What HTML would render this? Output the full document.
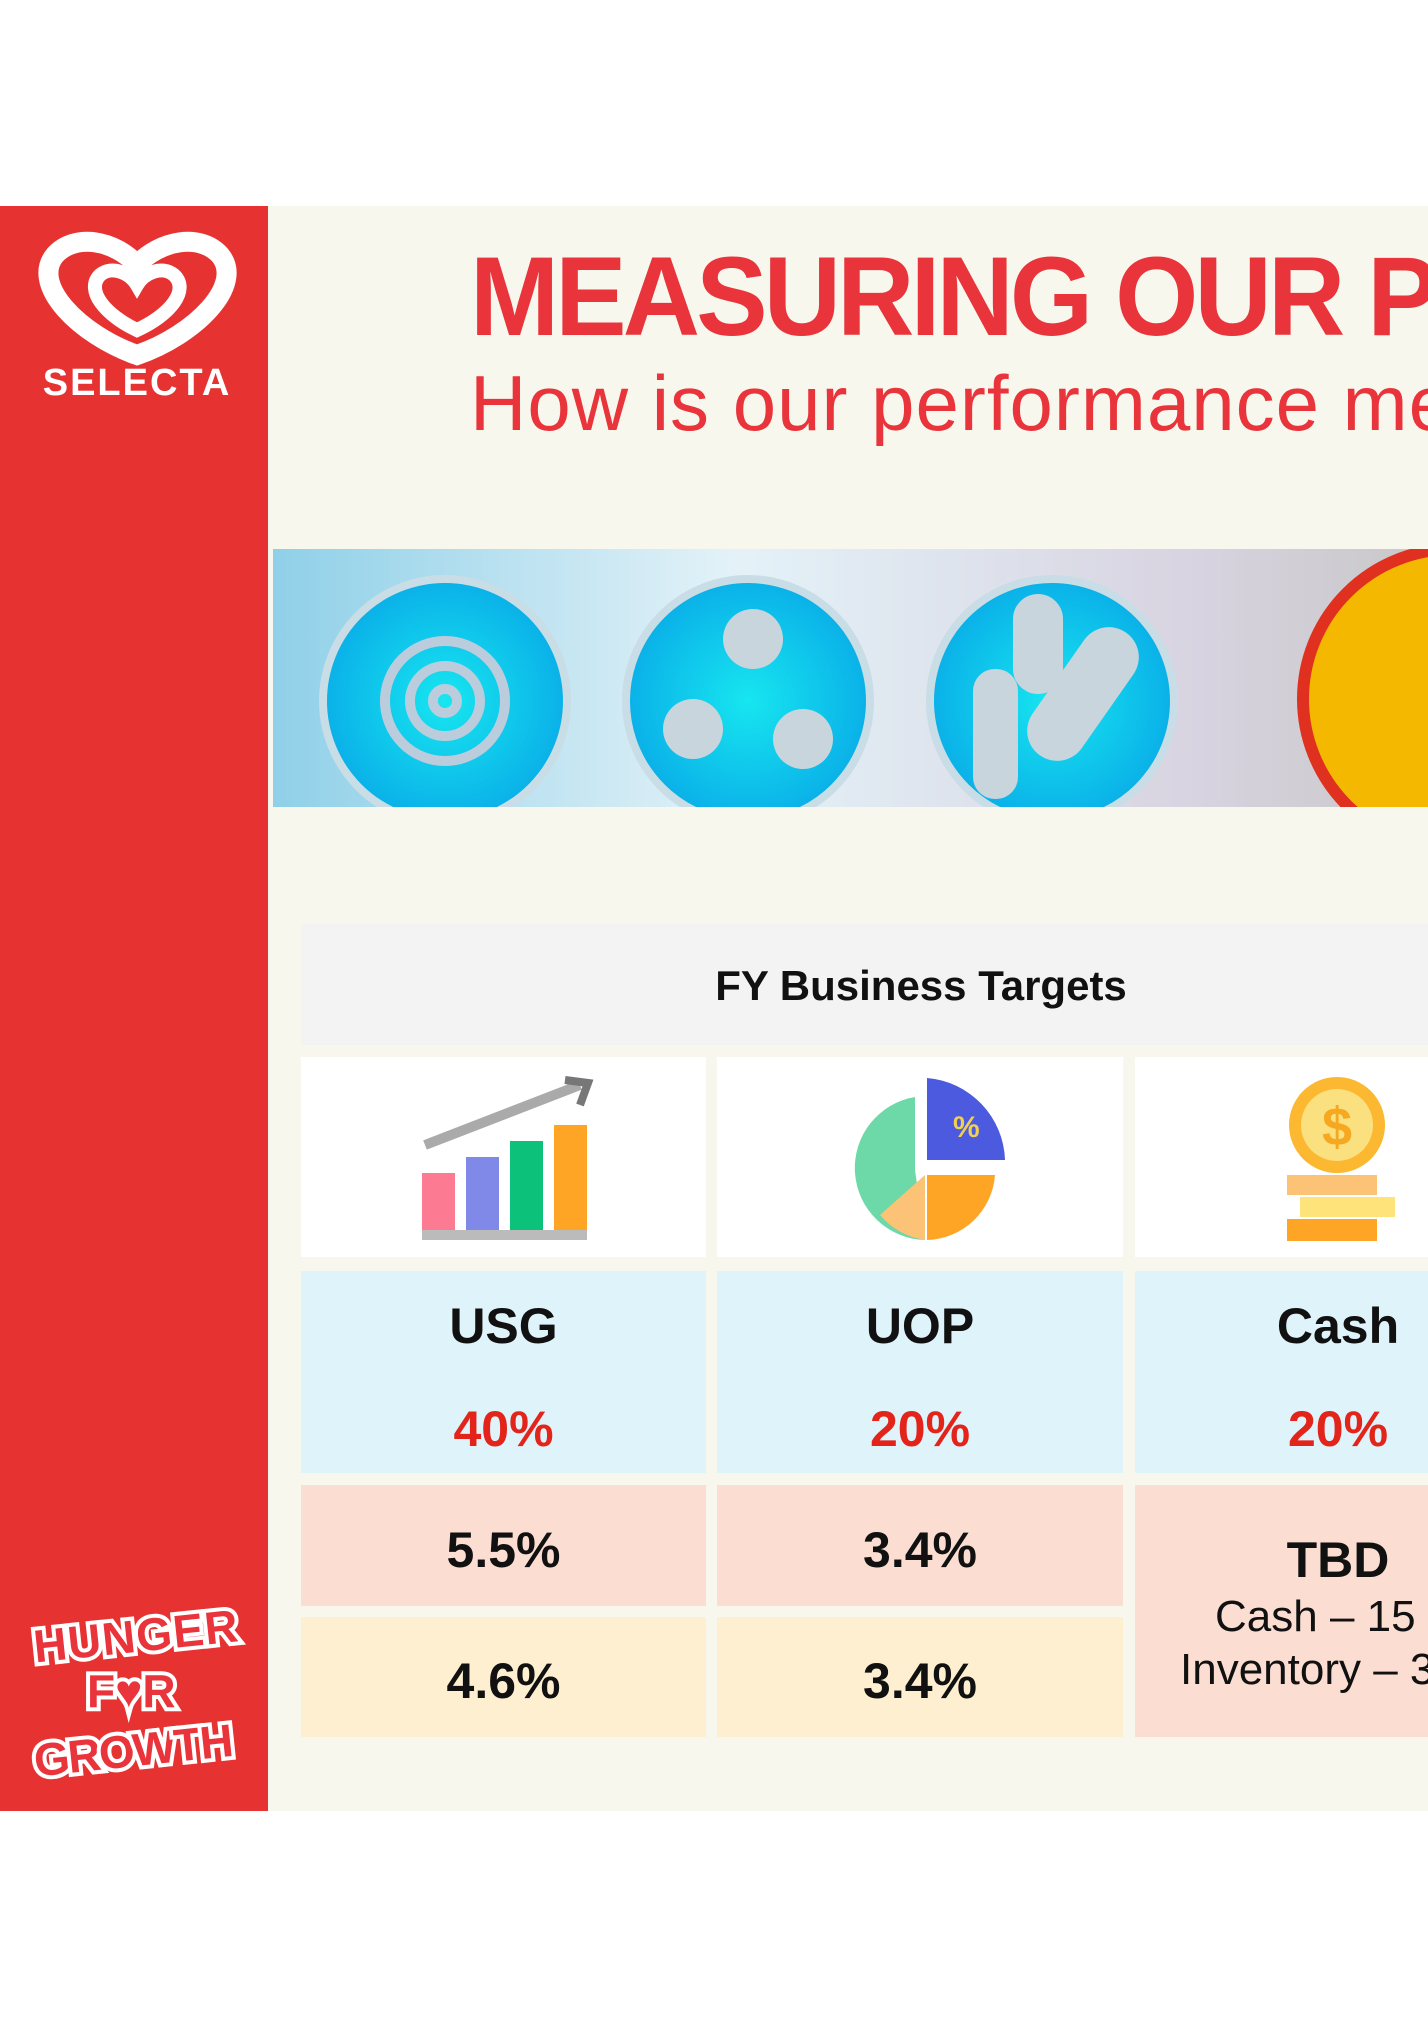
<!DOCTYPE html>
<html><head><meta charset="utf-8"><style>
html,body{margin:0;width:1428px;height:2018px;overflow:hidden}
body{background:#fff;position:relative;font-family:"Liberation Sans",sans-serif}
#wrap{position:absolute;left:0;top:0;width:1428px;height:2018px;overflow:hidden}
.abs{position:absolute}
.bg{left:0;top:206px;width:1428px;height:1605px;background:#f8f7ee}
.side{left:0;top:206px;width:268px;height:1605px;background:#e63332}
.cell{position:absolute;text-align:center;font-weight:bold;color:#111}
</style></head><body><div id="wrap">
<div class="abs bg"></div>
<div class="abs side"></div>
<svg class="abs" style="left:20px;top:225px" width="235" height="190">
<path d="M117 130 C60 110 10 60 35 30 C55 8 95 15 117 40 C140 15 180 8 200 30 C225 60 175 110 117 130Z" fill="none" stroke="#fff" stroke-width="20"/>
<path d="M117 105 C85 90 65 65 80 50 C92 40 110 48 117 60 C124 48 142 40 154 50 C170 65 150 90 117 105Z" fill="none" stroke="#fff" stroke-width="14"/>
<text x="117" y="170" text-anchor="middle" font-family="Liberation Sans" font-weight="bold" font-size="38" fill="#fff" letter-spacing="2">SELECTA</text>
</svg>
<div class="abs" style="left:470px;top:232px;font-size:112px;font-weight:bold;color:#e8343a;white-space:nowrap;letter-spacing:-4px;transform:scaleX(0.955);transform-origin:left top">MEASURING OUR PERFORMANCE</div>
<div class="abs" style="left:470px;top:358px;font-size:78px;color:#e8343a;white-space:nowrap;letter-spacing:1px">How is our performance measured?</div>
<svg class="abs" style="left:273px;top:549px" width="1155" height="258">
<defs><linearGradient id="g" x1="0" x2="1"><stop offset="0" stop-color="#8fd0e8"/><stop offset=".4" stop-color="#e4f2f8"/><stop offset=".8" stop-color="#d8d3e0"/><stop offset="1" stop-color="#c8c8c8"/></linearGradient>
<radialGradient id="c"><stop offset="0" stop-color="#17e6f0"/><stop offset="1" stop-color="#0ab0e8"/></radialGradient></defs>
<rect width="1155" height="258" fill="url(#g)"/>
<g stroke="#c9dde6" stroke-width="8" fill="url(#c)">
<circle cx="172" cy="152" r="122"/><circle cx="475" cy="152" r="122"/><circle cx="779" cy="152" r="122"/></g>
<g fill="none" stroke="#bcd" stroke-width="10"><circle cx="172" cy="152" r="60"/><circle cx="172" cy="152" r="35"/><circle cx="172" cy="152" r="12"/></g>
<g fill="#c8d5dc"><circle cx="480" cy="90" r="30"/><circle cx="420" cy="180" r="30"/><circle cx="530" cy="190" r="30"/>
<rect x="700" y="120" width="45" height="130" rx="22"/><rect x="740" y="45" width="50" height="100" rx="25"/><rect x="780" y="70" width="60" height="150" rx="30" transform="rotate(35 810 145)"/></g>
<circle cx="1180" cy="150" r="150" fill="#f5b800" stroke="#e03020" stroke-width="12"/>
</svg>
<div class="abs" style="left:301px;top:924px;width:1127px;height:121px;background:#f3f3f3"></div>
<div class="cell" style="left:301px;top:962px;width:1240px;font-size:42px">FY Business Targets</div>
<div class="abs" style="left:301px;top:1057px;width:405px;height:200px;background:#fff"></div>
<div class="abs" style="left:717px;top:1057px;width:406px;height:200px;background:#fff"></div>
<div class="abs" style="left:1135px;top:1057px;width:293px;height:200px;background:#fff"></div>
<svg class="abs" style="left:420px;top:1075px" width="180" height="170">
<path d="M5 70 L160 10" stroke="#aaa" stroke-width="10"/><path d="M145 5 L168 8 L160 30" stroke="#777" stroke-width="8" fill="none"/>
<rect x="2" y="98" width="33" height="60" fill="#fd7a93"/><rect x="46" y="82" width="33" height="76" fill="#8088e8"/><rect x="90" y="66" width="33" height="92" fill="#0cc27a"/><rect x="134" y="50" width="33" height="108" fill="#ffa526"/><rect x="2" y="155" width="165" height="10" fill="#bbb"/></svg>
<svg class="abs" style="left:835px;top:1075px" width="180" height="170">
<path d="M90 165 A72 72 0 0 1 80 22 L80 95Z" fill="#6dd8a8"/><path d="M90 165 A72 72 0 0 1 45 140 L90 100Z" fill="#fcc275"/><path d="M92 100 L160 100 A70 70 0 0 1 92 165Z" fill="#ffa526"/><path d="M92 3 A85 85 0 0 1 170 85 L92 85Z" fill="#4b5adf"/><text x="118" y="62" font-size="30" font-weight="bold" fill="#f0d050">%</text></svg>
<svg class="abs" style="left:1285px;top:1075px" width="110" height="170">
<circle cx="52" cy="50" r="48" fill="#fbb830"/><circle cx="52" cy="50" r="36" fill="#fbe080"/><text x="52" y="70" text-anchor="middle" font-size="54" font-weight="bold" fill="#f5a820">$</text>
<rect x="2" y="100" width="90" height="20" fill="#fcc275"/><rect x="15" y="122" width="95" height="20" fill="#fde37a"/><rect x="2" y="144" width="90" height="22" fill="#ffa526"/></svg>
<div class="abs" style="left:301px;top:1271px;width:405px;height:202px;background:#dff3fb"></div>
<div class="abs" style="left:717px;top:1271px;width:406px;height:202px;background:#dff3fb"></div>
<div class="abs" style="left:1135px;top:1271px;width:293px;height:202px;background:#dff3fb"></div>
<div class="abs" style="left:301px;top:1485px;width:405px;height:121px;background:#fbddd1"></div>
<div class="abs" style="left:717px;top:1485px;width:406px;height:121px;background:#fbddd1"></div>
<div class="abs" style="left:1135px;top:1485px;width:293px;height:252px;background:#fbddd1"></div>
<div class="abs" style="left:301px;top:1617px;width:405px;height:120px;background:#fdefd0"></div>
<div class="abs" style="left:717px;top:1617px;width:406px;height:120px;background:#fdefd0"></div>
<div class="cell" style="left:301px;top:1297px;width:405px;font-size:50px">USG</div>
<div class="cell" style="left:717px;top:1297px;width:406px;font-size:50px">UOP</div>
<div class="cell" style="left:1135px;top:1297px;width:406px;font-size:50px">Cash</div>
<div class="cell" style="left:301px;top:1400px;width:405px;font-size:50px;color:#e3241b">40%</div>
<div class="cell" style="left:717px;top:1400px;width:406px;font-size:50px;color:#e3241b">20%</div>
<div class="cell" style="left:1135px;top:1400px;width:406px;font-size:50px;color:#e3241b">20%</div>
<div class="cell" style="left:301px;top:1521px;width:405px;font-size:50px">5.5%</div>
<div class="cell" style="left:717px;top:1521px;width:406px;font-size:50px">3.4%</div>
<div class="cell" style="left:301px;top:1652px;width:405px;font-size:50px">4.6%</div>
<div class="cell" style="left:717px;top:1652px;width:406px;font-size:50px">3.4%</div>
<div class="cell" style="left:1135px;top:1531px;width:406px;font-size:50px">TBD</div>
<div class="abs" style="left:1215px;top:1592px;font-size:44px;color:#111;white-space:nowrap">Cash – 15 days</div>
<div class="abs" style="left:1180px;top:1645px;font-size:44px;color:#111;white-space:nowrap">Inventory – 30 days</div>
<svg class="abs" style="left:25px;top:1595px" width="230" height="190">
<g font-family="Liberation Sans" font-weight="bold" fill="#e8343a" stroke="#fff" stroke-width="8" paint-order="stroke" font-size="46">
<text x="8" y="58" transform="rotate(-6 100 40)" textLength="205">HUNGER</text>
<text x="62" y="112">F♥R</text>
<text x="8" y="172" transform="rotate(-6 100 150)" textLength="200">GROWTH</text></g></svg>
</div></body></html>
